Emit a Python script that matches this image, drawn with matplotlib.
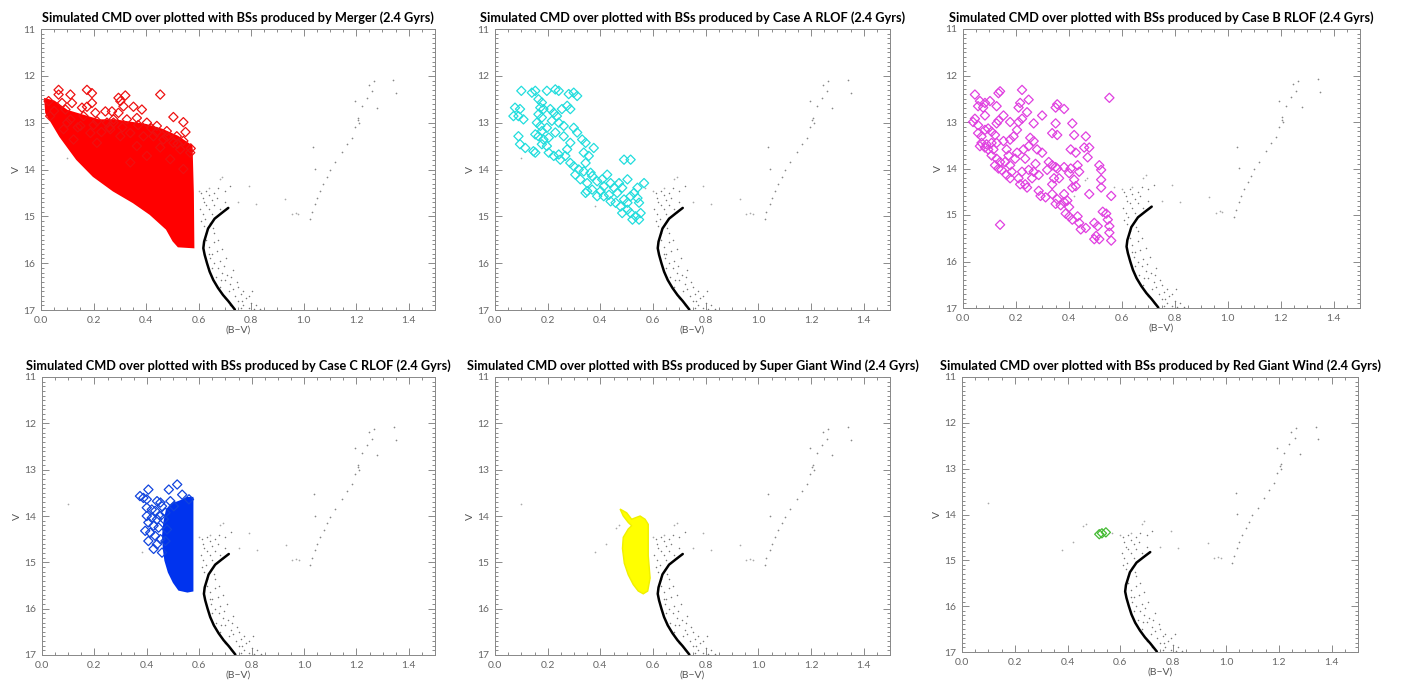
import matplotlib.pyplot as plt
from matplotlib.ticker import MultipleLocator

W, H = 1401, 687
FONT = ["Lato", "DejaVu Sans"]

# simulated cluster CMD, shared by every panel
turnoff_x = [0.713, 0.69, 0.661, 0.636, 0.621, 0.618, 0.623, 0.632, 0.642,
             0.656, 0.674, 0.693, 0.713, 0.738]
turnoff_y = [14.82, 14.92, 15.05, 15.26, 15.54, 15.68, 15.82, 16.0, 16.18,
             16.36, 16.53, 16.68, 16.81, 16.99]

ms_x = [0.61, 0.615, 0.62, 0.63, 0.64, 0.65, 0.66, 0.67, 0.68, 0.69, 0.70,
        0.605, 0.615, 0.625, 0.64, 0.65, 0.66, 0.675, 0.70, 0.72, 0.63, 0.61,
        0.62, 0.63, 0.645, 0.63, 0.64, 0.65, 0.66, 0.645, 0.66, 0.67, 0.675,
        0.68, 0.69, 0.695, 0.70, 0.71, 0.72, 0.715, 0.73, 0.74, 0.745, 0.75,
        0.76, 0.77, 0.78, 0.79, 0.80, 0.81, 0.82, 0.835, 0.76, 0.72, 0.70,
        0.68, 0.665, 0.65, 0.64, 0.69, 0.705, 0.73, 0.75, 0.77, 0.79, 0.66,
        0.675, 0.655, 0.685, 0.725, 0.765, 0.805]
ms_y = [14.5, 14.6, 14.7, 14.45, 14.55, 14.65, 14.75, 14.6, 14.85, 14.9, 14.7,
        14.85, 14.95, 15.05, 14.85, 14.95, 14.5, 14.4, 14.45, 14.35, 14.75,
        15.1, 15.2, 15.35, 15.15, 15.5, 15.65, 15.8, 15.55, 15.9, 16.0, 15.75,
        16.1, 15.95, 16.2, 16.05, 16.35, 16.25, 16.45, 16.6, 16.55, 16.7,
        16.4, 16.8, 16.65, 16.9, 16.75, 16.95, 16.85, 16.98, 16.9, 16.98,
        16.95, 16.9, 16.75, 16.5, 16.3, 16.1, 15.8, 15.7, 15.9, 16.15, 16.5,
        16.6, 16.7, 15.35, 15.5, 15.25, 16.35, 16.3, 16.8, 16.6]

field_x = [0.82, 0.93, 0.955, 0.97, 0.98, 0.75, 0.10, 0.38, 0.42, 0.46,
           0.47, 0.68, 0.69, 0.79, 0.57, 0.60, 0.64]
field_y = [14.73, 14.62, 14.95, 14.92, 14.94, 14.7, 13.75, 14.77, 14.6,
           14.25, 14.2, 14.2, 14.15, 14.36, 14.4, 14.45, 14.4]

giant_x = [1.024, 1.03, 1.043, 1.05, 1.062, 1.075, 1.088, 1.10, 1.12, 1.145,
           1.164, 1.183, 1.195, 1.205, 1.207, 1.21, 1.221, 1.24, 1.26, 1.266,
           1.247, 1.342, 1.35, 1.195, 1.279, 1.037, 1.043]
giant_y = [15.05, 14.9, 14.73, 14.6, 14.45, 14.3, 14.16, 14.02, 13.85, 13.63,
           13.46, 13.32, 13.1, 12.95, 12.9, 13.0, 12.65, 12.47, 12.33, 12.12,
           12.19, 12.08, 12.36, 12.54, 12.68, 13.53, 13.99]

# blue stragglers: dense cores (outline) and resolved diamonds
merger_core_x = [0.016, 0.02, 0.073, 0.137, 0.2, 0.276, 0.352, 0.416, 0.479,
                 0.504, 0.523, 0.58, 0.578, 0.573, 0.52, 0.46, 0.40, 0.34,
                 0.28, 0.22, 0.16, 0.10, 0.05]
merger_core_y = [12.5, 12.79, 13.29, 13.78, 14.14, 14.45, 14.7, 14.95, 15.27,
                 15.52, 15.64, 15.66, 14.5, 13.5, 13.3, 13.15, 13.05, 13.0,
                 12.95, 12.95, 12.85, 12.75, 12.55]
merger_x = [0.067, 0.067, 0.112, 0.175, 0.194, 0.295, 0.321, 0.454, 0.029,
            0.08, 0.118, 0.194, 0.093, 0.156, 0.175, 0.207, 0.245, 0.27,
            0.295, 0.314, 0.352, 0.384, 0.302, 0.504, 0.542, 0.035, 0.112,
            0.15, 0.213, 0.251, 0.276, 0.327, 0.365, 0.403, 0.441, 0.479,
            0.517, 0.542, 0.086, 0.188, 0.264, 0.302, 0.34, 0.39, 0.428,
            0.466, 0.504, 0.568, 0.124, 0.213, 0.365, 0.454, 0.53, 0.403,
            0.492, 0.34, 0.542, 0.276, 0.162, 0.05, 0.14, 0.23, 0.42, 0.48,
            0.55, 0.31, 0.37, 0.44, 0.26, 0.52, 0.57, 0.20, 0.10]
merger_y = [12.3, 12.4, 12.4, 12.3, 12.37, 12.47, 12.42, 12.4, 12.54, 12.58,
            12.58, 12.58, 12.72, 12.68, 12.66, 12.79, 12.76, 12.76, 12.79,
            12.65, 12.66, 12.72, 12.54, 12.88, 12.99, 12.86, 12.93, 13.07,
            12.97, 13.0, 12.93, 12.93, 12.9, 13.0, 13.07, 13.18, 13.29, 13.39,
            13.14, 13.22, 13.14, 13.29, 13.22, 13.29, 13.29, 13.36, 13.43,
            13.64, 13.36, 13.43, 13.5, 13.53, 13.57, 13.71, 13.78, 13.85,
            13.99, 13.0, 12.86, 12.75, 13.1, 13.2, 13.12, 13.3, 13.2, 13.1,
            13.05, 13.2, 13.1, 13.45, 13.55, 13.05, 13.0]

case_a_x = [0.10, 0.14, 0.153, 0.197, 0.229, 0.242, 0.28, 0.299, 0.312,
            0.076, 0.095, 0.089, 0.07, 0.108, 0.165, 0.178, 0.172, 0.184,
            0.165, 0.178, 0.159, 0.172, 0.178, 0.165, 0.184, 0.178, 0.197,
            0.21, 0.223, 0.235, 0.254, 0.274, 0.286, 0.216, 0.242, 0.261,
            0.229, 0.204, 0.089, 0.095, 0.115, 0.146, 0.153, 0.204, 0.223,
            0.242, 0.248, 0.267, 0.286, 0.299, 0.274, 0.299, 0.312, 0.331,
            0.344, 0.375, 0.356, 0.344, 0.318, 0.337, 0.363, 0.305, 0.324,
            0.35, 0.369, 0.388, 0.407, 0.413, 0.426, 0.439, 0.452, 0.464,
            0.433, 0.401, 0.369, 0.35, 0.344, 0.388, 0.413, 0.439, 0.458,
            0.477, 0.49, 0.503, 0.515, 0.528, 0.541, 0.547, 0.503, 0.483,
            0.515, 0.534, 0.553, 0.547, 0.522, 0.566, 0.541, 0.49, 0.515,
            0.503, 0.471, 0.483, 0.337, 0.286, 0.261, 0.197, 0.153]
case_a_y = [12.32, 12.36, 12.32, 12.32, 12.29, 12.32, 12.39, 12.36, 12.43,
            12.68, 12.71, 12.86, 12.86, 12.93, 12.5, 12.57, 12.68, 12.71,
            12.82, 12.89, 13.0, 13.07, 13.18, 13.29, 13.36, 13.46, 13.5,
            12.71, 12.79, 12.86, 12.71, 12.64, 12.71, 12.96, 13.0, 13.07,
            13.21, 13.32, 13.29, 13.46, 13.54, 13.61, 13.64, 13.64, 13.71,
            13.68, 13.79, 13.71, 13.86, 13.93, 13.57, 13.11, 13.21, 13.36,
            13.43, 13.54, 13.71, 13.86, 14.0, 14.04, 14.07, 14.11, 14.21,
            14.29, 14.14, 14.25, 14.21, 14.36, 14.11, 14.29, 14.39, 14.5,
            14.54, 14.46, 14.43, 14.46, 14.5, 14.57, 14.57, 14.68, 14.71,
            14.79, 14.64, 14.71, 14.57, 14.5, 14.61, 14.71, 14.86, 14.93,
            14.93, 15.0, 14.93, 15.07, 15.07, 14.29, 14.39, 13.79, 13.79,
            14.21, 14.29, 14.39, 13.64, 13.43, 13.29, 13.11, 13.25]

case_b_x = [0.045, 0.064, 0.057, 0.083, 0.076, 0.045, 0.038, 0.083, 0.102,
            0.127, 0.14, 0.134, 0.223, 0.216, 0.248, 0.242, 0.223, 0.153,
            0.134, 0.127, 0.178, 0.21, 0.057, 0.057, 0.07, 0.083, 0.095,
            0.108, 0.121, 0.07, 0.089, 0.108, 0.127, 0.095, 0.108, 0.127,
            0.14, 0.121, 0.134, 0.146, 0.159, 0.172, 0.165, 0.153, 0.178,
            0.191, 0.204, 0.204, 0.197, 0.178, 0.184, 0.165, 0.178, 0.21,
            0.216, 0.235, 0.242, 0.223, 0.248, 0.267, 0.261, 0.286, 0.274,
            0.235, 0.229, 0.248, 0.267, 0.254, 0.28, 0.299, 0.324, 0.337,
            0.35, 0.356, 0.318, 0.344, 0.363, 0.337, 0.286, 0.293, 0.312,
            0.337, 0.356, 0.35, 0.369, 0.382, 0.394, 0.401, 0.382, 0.413,
            0.426, 0.42, 0.401, 0.382, 0.407, 0.433, 0.439, 0.407, 0.426,
            0.458, 0.477, 0.464, 0.413, 0.42, 0.356, 0.35, 0.337, 0.35,
            0.356, 0.382, 0.299, 0.267, 0.21, 0.471, 0.515, 0.522, 0.522,
            0.522, 0.56, 0.477, 0.413, 0.439, 0.445, 0.464, 0.433, 0.496,
            0.509, 0.528, 0.541, 0.547, 0.553, 0.553, 0.56, 0.503, 0.496,
            0.515, 0.388, 0.401, 0.553, 0.14, 0.115, 0.083, 0.064]
case_b_y = [12.41, 12.55, 12.66, 12.59, 12.69, 12.93, 13.0, 12.86, 12.55,
            12.66, 12.34, 12.38, 12.31, 12.59, 12.52, 12.79, 12.93, 12.86,
            12.97, 13.03, 13.0, 13.0, 13.07, 13.24, 13.31, 13.17, 13.14,
            13.21, 13.28, 13.45, 13.48, 13.45, 13.45, 13.59, 13.72, 13.79,
            13.86, 13.93, 14.0, 14.03, 13.86, 13.72, 13.59, 13.41, 13.38,
            13.31, 13.17, 13.66, 13.79, 13.93, 14.07, 14.14, 14.21, 14.21,
            14.34, 14.34, 14.41, 14.07, 14.03, 14.07, 14.21, 14.14, 13.9,
            13.79, 13.59, 13.52, 13.41, 13.34, 13.59, 13.66, 13.86, 13.93,
            13.97, 14.0, 14.03, 14.21, 14.21, 14.34, 14.48, 14.59, 14.62,
            14.55, 14.66, 14.76, 14.79, 14.72, 14.69, 14.83, 14.55, 14.41,
            14.38, 14.24, 14.1, 13.97, 14.0, 13.93, 14.07, 13.59, 13.66,
            13.55, 13.55, 13.31, 13.03, 13.28, 13.28, 13.03, 13.24, 12.69,
            12.62, 12.72, 12.86, 13.03, 12.69, 13.76, 13.93, 14.03, 14.24,
            14.41, 14.59, 14.55, 15.1, 15.17, 15.31, 15.28, 15.03, 15.17,
            15.24, 14.93, 14.97, 15.1, 15.24, 15.38, 15.55, 15.45, 15.52,
            15.52, 14.97, 15.03, 12.48, 15.21, 13.59, 13.55, 13.52]

case_c_core_x = [0.574, 0.574, 0.555, 0.523, 0.503, 0.484, 0.471, 0.465,
                 0.462, 0.467, 0.477, 0.497, 0.529, 0.555]
case_c_core_y = [13.61, 15.61, 15.63, 15.59, 15.43, 15.21, 14.96, 14.71,
                 14.43, 14.14, 13.86, 13.75, 13.68, 13.61]
case_c_x = [0.406, 0.484, 0.516, 0.535, 0.387, 0.4, 0.439, 0.452, 0.49,
            0.503, 0.561, 0.4, 0.419, 0.432, 0.458, 0.471, 0.4, 0.419, 0.439,
            0.452, 0.406, 0.426, 0.445, 0.394, 0.413, 0.432, 0.452, 0.406,
            0.439, 0.426, 0.458, 0.471, 0.477, 0.465, 0.374]
case_c_y = [13.43, 13.43, 13.32, 13.54, 13.61, 13.64, 13.68, 13.71, 13.68,
            13.79, 13.64, 13.82, 13.86, 13.89, 13.79, 13.93, 14.0, 14.04,
            14.07, 14.0, 14.14, 14.21, 14.25, 14.32, 14.36, 14.43, 14.5,
            14.54, 14.61, 14.71, 14.79, 14.54, 14.29, 14.07, 13.57]

sgw_core_x = [0.475, 0.5, 0.519, 0.532, 0.551, 0.57, 0.582, 0.582, 0.582,
              0.589, 0.58, 0.563, 0.544, 0.525, 0.506, 0.491, 0.484, 0.487,
              0.506, 0.519, 0.506, 0.487]
sgw_core_y = [13.85, 13.93, 14.07, 14.04, 14.0, 14.07, 14.18, 14.42, 14.85,
              15.34, 15.62, 15.68, 15.62, 15.48, 15.27, 15.02, 14.7, 14.46,
              14.28, 14.21, 14.14, 14.0]

rgw_x = [0.52, 0.53, 0.545]
rgw_y = [14.43, 14.41, 14.39]

panels = [
    ("Merger", (41, 29, 435, 310)),
    ("Case A RLOF", (495, 29, 890, 310)),
    ("Case B RLOF", (963, 29, 1360, 308)),
    ("Case C RLOF", (42, 377, 435, 655)),
    ("Super Giant Wind", (495, 377, 890, 655)),
    ("Red Giant Wind", (962, 377, 1358, 652)),
]


def make_axes(fig, box):
    x0, y0, x1, y1 = box
    ax = fig.add_axes([x0 / W, 1 - y1 / H, (x1 - x0) / W, (y1 - y0) / H])
    ax.set_xlim(0.0, 1.5)
    ax.set_ylim(17, 11)
    ax.xaxis.set_major_locator(MultipleLocator(0.2))
    ax.xaxis.set_minor_locator(MultipleLocator(0.05))
    ax.yaxis.set_major_locator(MultipleLocator(1))
    ax.yaxis.set_minor_locator(MultipleLocator(0.1))
    ax.xaxis.set_major_formatter(lambda v, p: f"{v:.1f}")
    ax.tick_params(which="both", direction="in", top=True, right=True,
                   color="#777777", width=0.6, labelsize=7.5,
                   labelcolor="#666666", pad=4)
    ax.tick_params(which="major", length=5)
    ax.tick_params(which="minor", length=2.5)
    for lab in ax.get_xticklabels() + ax.get_yticklabels():
        lab.set_family(FONT)
    for sp in ax.spines.values():
        sp.set_color("#888888")
        sp.set_linewidth(0.7)
    ax.set_xlabel("(B\u2212V)", fontsize=7.5, color="#555555", family=FONT,
                  labelpad=1)
    ax.set_ylabel("V", fontsize=7.5, color="#555555", family=FONT,
                  labelpad=2)
    return ax


def draw_background(ax):
    ax.scatter(ms_x, ms_y, s=1.2, color="#777777", linewidths=0)
    ax.scatter(field_x, field_y, s=1.5, color="#aaaaaa", linewidths=0)
    ax.scatter(giant_x, giant_y, s=1.5, color="#888888", linewidths=0)
    ax.plot(turnoff_x, turnoff_y, color="black", lw=1.8, solid_capstyle="round")


def diamonds(ax, x, y, color):
    ax.scatter(x, y, s=22, marker="D", facecolors="none", edgecolors=color,
               linewidths=0.9, zorder=3)


fig = plt.figure(figsize=(W / 100, H / 100), dpi=100)
axes = []
for name, box in panels:
    ax = make_axes(fig, box)
    draw_background(ax)
    ax.set_title(f"Simulated CMD over plotted with BSs produced by {name} (2.4 Gyrs)",
                 fontsize=9.2, fontweight="bold", family=FONT, pad=5)
    axes.append(ax)

axes[0].fill(merger_core_x, merger_core_y, color="#ff0000", lw=1.5,
             ec="#ff0000", zorder=3)
diamonds(axes[0], merger_x, merger_y, "#ee1111")
diamonds(axes[1], case_a_x, case_a_y, "#22dddd")
diamonds(axes[2], case_b_x, case_b_y, "#e040e0")
axes[3].fill(case_c_core_x, case_c_core_y, color="#0033ee", lw=1.5,
             ec="#0033ee", zorder=3)
diamonds(axes[3], case_c_x, case_c_y, "#1144dd")
axes[4].fill(sgw_core_x, sgw_core_y, color="#ffff00", lw=1.0,
             ec="#f0f000", zorder=3)
diamonds(axes[5], rgw_x, rgw_y, "#44bb33")

fig.savefig("out.png", dpi=100)
